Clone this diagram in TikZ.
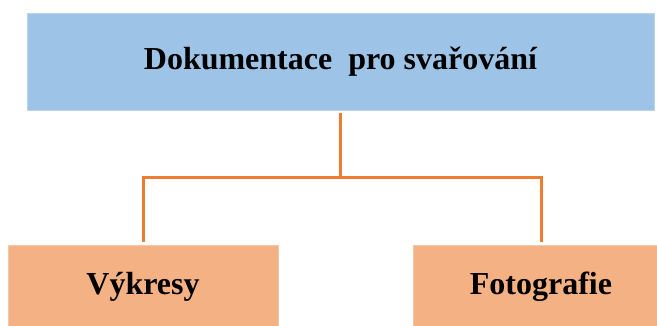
\documentclass[tikz,border=0pt]{standalone}
\usepackage{fontspec}
\setmainfont{Liberation Serif}
\definecolor{boxblue}{HTML}{9DC3E6}
\definecolor{boxtan}{HTML}{F4B183}
\definecolor{linkorange}{HTML}{ED7D31}
\begin{document}
\begin{tikzpicture}[x=1pt,y=-1pt,
  every node/.style={font=\fontsize{32}{38}\selectfont\bfseries, inner sep=0pt},
  headbox/.style={fill=boxblue, draw=boxblue!70!white, line width=0.6pt, minimum width=627pt, minimum height=97pt},
  leafbox/.style={fill=boxtan, draw=boxtan!70!white, line width=0.6pt, minimum height=83pt},
  conn/.style={draw=linkorange, line width=3pt, line join=miter}]
  \useasboundingbox (0,0) rectangle (657,325);
  \clip (0,0) rectangle (657,325);
  % heading box
  \node[headbox] (head) at (340.5,61.5) {Dokumentace\ \ pro svařování};
  % the two branches
  \node[leafbox, minimum width=270pt] (draw) at (143,286.5) {Výkresy};
  \node[leafbox, minimum width=256pt] (photo) at (541,286.5) {Fotografie};
  % connectors
  \coordinate (fork) at (341,177);
  \draw[conn] ([yshift=-3pt]head.south) -- (head.south |- fork);
  \draw[conn] ([yshift=3pt]draw.north) -- (draw.north |- fork) -- (photo.north |- fork) -- ([yshift=3pt]photo.north);
\end{tikzpicture}
\end{document}
